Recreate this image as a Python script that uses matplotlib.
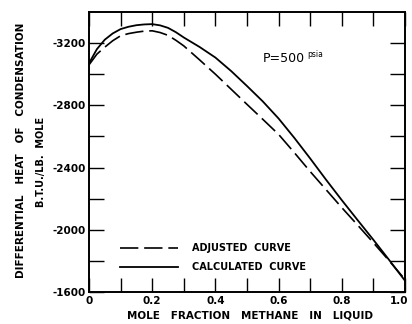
import matplotlib
matplotlib.use("Agg")
import matplotlib.pyplot as plt
import matplotlib.transforms as mtransforms
from matplotlib.ticker import FixedLocator

# mole fraction methane in liquid
x_frac = [0.0, 0.025, 0.05, 0.075, 0.1, 0.125, 0.15, 0.175, 0.2, 0.225, 0.25,
          0.275, 0.3, 0.35, 0.4, 0.45, 0.5, 0.55, 0.6, 0.65, 0.7, 0.75, 0.8,
          0.85, 0.9, 0.95, 1.0]

# differential heat of condensation, BTU / lb mole
calculated = [-3070, -3161, -3222, -3262, -3290, -3305, -3315, -3320, -3322,
              -3314, -3298, -3270, -3236, -3175, -3107, -3020, -2924, -2825,
              -2715, -2590, -2458, -2322, -2190, -2062, -1935, -1805, -1672]
adjusted = [-3060, -3129, -3174, -3215, -3247, -3261, -3270, -3277, -3279,
            -3268, -3250, -3218, -3182, -3092, -3000, -2903, -2806, -2710,
            -2613, -2495, -2374, -2258, -2142, -2030, -1916, -1800, -1680]

x_labels = ["0", "0.2", "0.4", "0.6", "0.8", "1.0"]
y_labels = ["-1600", "-2000", "-2400", "-2800", "-3200"]

plt.rcParams['font.family'] = ['DejaVu Sans']
plt.rcParams['font.weight'] = 'bold'

fig = plt.figure(figsize=(4.12, 3.24), dpi=100)
ax = fig.add_axes([0.216, 0.099, 0.767, 0.864])

ax.plot(x_frac, adjusted, color='black', lw=1.2, linestyle=(0, (11, 3.5)),
        label='ADJUSTED  CURVE')
ax.plot(x_frac, calculated, color='black', lw=1.3, label='CALCULATED  CURVE')

ax.set_xlim(0, 1.0)
ax.set_ylim(-1600, -3400)

ax.xaxis.set_major_locator(FixedLocator([0, 0.2, 0.4, 0.6, 0.8, 1.0]))
ax.xaxis.set_minor_locator(FixedLocator([0.1, 0.3, 0.5, 0.7, 0.9]))
ax.set_xticklabels(x_labels)
ax.yaxis.set_major_locator(FixedLocator([-1600, -2000, -2400, -2800, -3200]))
ax.yaxis.set_minor_locator(FixedLocator([-1800, -2200, -2600, -3000]))
ax.set_yticklabels(y_labels)

ax.tick_params(which='both', direction='in', top=True, right=True,
               width=1.0, color='black', labelsize=7.5)
ax.tick_params(axis='x', which='both', length=10, pad=3)
ax.tick_params(axis='y', which='both', length=11, pad=2)
for sp in ax.spines.values():
    sp.set_linewidth(1.4)

# keep the last x label inside the picture
last = ax.get_xticklabels()[-1]
last.set_transform(last.get_transform() +
                   mtransforms.ScaledTranslation(-4 / 72, 0, fig.dpi_scale_trans))

ax.text(0.55, 0.82, "P=500", transform=ax.transAxes, fontsize=9,
        fontweight='normal')
ax.text(0.69, 0.84, "psia", transform=ax.transAxes, fontsize=5.5,
        fontweight='normal')

ax.legend(loc='lower left', bbox_to_anchor=(0.07, 0.04), frameon=False,
          fontsize=7, handlelength=6.0, handletextpad=1.4, labelspacing=0.9)

fig.text(0.05, 0.535, "DIFFERENTIAL   HEAT   OF   CONDENSATION", rotation=90,
         ha='center', va='center', fontsize=7.5)
fig.text(0.1, 0.5, "B.T.U./LB.  MOLE", rotation=90, ha='center', va='center',
         fontsize=7)
fig.text(0.607, 0.025, "MOLE   FRACTION   METHANE   IN   LIQUID",
         ha='center', va='center', fontsize=7.5)

fig.savefig("out.png", dpi=100)
